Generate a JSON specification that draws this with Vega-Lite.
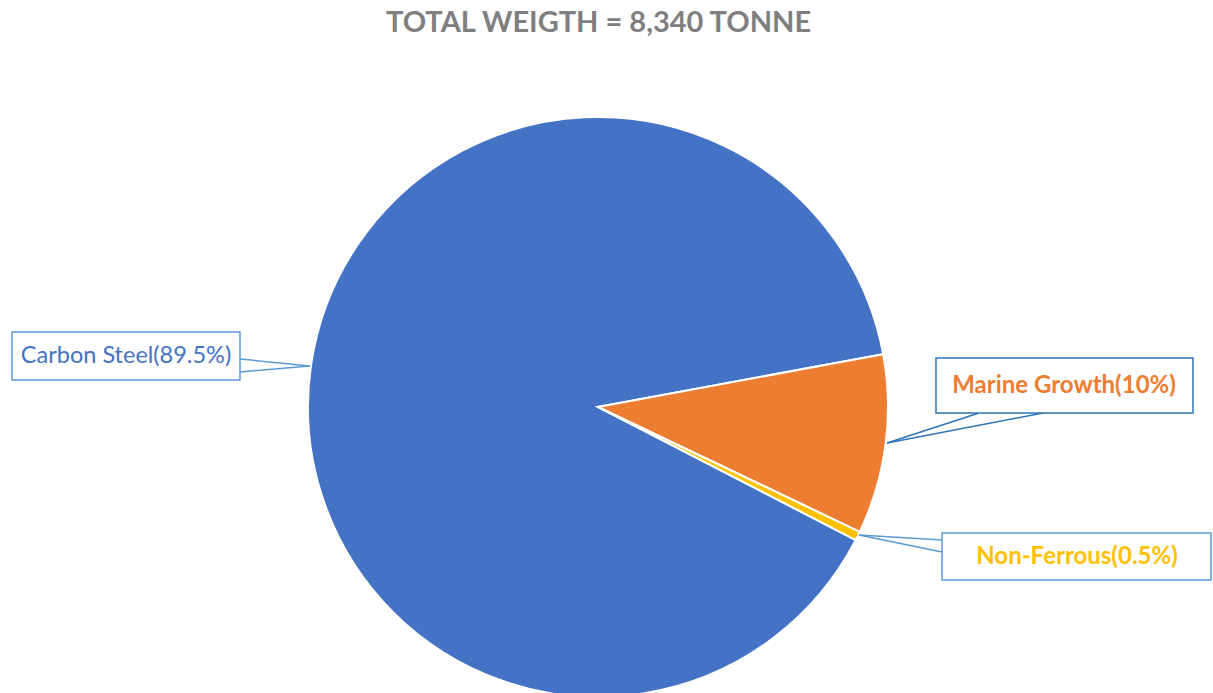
{
  "$schema": "https://vega.github.io/schema/vega-lite/v6.json",
  "width": 1213,
  "height": 647,
  "autosize": {"type": "pad"},
  "padding": {"top": 9, "left": 0, "right": 0, "bottom": 0},
  "background": "white",
  "config": {"view": {"stroke": null}},
  "title": {
    "text": "TOTAL WEIGTH = 8,340 TONNE",
    "orient": "top",
    "anchor": "middle",
    "frame": "group",
    "offset": 8,
    "dx": -8,
    "baseline": "top",
    "font": "Lato",
    "fontSize": 29,
    "fontWeight": "bold",
    "color": "#7F7F7F"
  },
  "datasets": {
    "slices": [
      {"material": "Carbon Steel", "percent": 89.5},
      {"material": "Marine Growth", "percent": 10},
      {"material": "Non-Ferrous", "percent": 0.5}
    ],
    "callouts": [
      {"material": "Carbon Steel", "label": "Carbon Steel(89.5%)", "bold": false, "x1": -2.0207, "x2": -1.2345, "y1": 0.2586, "y2": 0.0931, "tx": -1.6276, "ty": 0.1759},
      {"material": "Marine Growth", "label": "Marine Growth(10%)", "bold": true, "x1": 1.1655, "x2": 2.0517, "y1": 0.1690, "y2": -0.0207, "tx": 1.6069, "ty": 0.0724},
      {"material": "Non-Ferrous", "label": "Non-Ferrous(0.5%)", "bold": true, "x1": 1.1862, "x2": 2.1138, "y1": -0.4345, "y2": -0.5966, "tx": 1.6517, "ty": -0.5172}
    ],
    "pointers": [
      {"material": "Carbon Steel", "bx": -1.2345, "by": 0.1655, "px": -0.9931, "py": 0.1414},
      {"material": "Carbon Steel", "bx": -1.2345, "by": 0.1207, "px": -0.9931, "py": 0.1414},
      {"material": "Marine Growth", "bx": 1.3138, "by": -0.0207, "px": 0.9966, "py": -0.1241},
      {"material": "Marine Growth", "bx": 1.5345, "by": -0.0207, "px": 0.9966, "py": -0.1241},
      {"material": "Non-Ferrous", "bx": 1.1862, "by": -0.4586, "px": 0.9, "py": -0.4414},
      {"material": "Non-Ferrous", "bx": 1.1862, "by": -0.5, "px": 0.9, "py": -0.4414}
    ]
  },
  "layer": [
    {
      "data": {"name": "slices"},
      "mark": {"type": "arc", "outerRadius": 290, "stroke": "white", "strokeWidth": 2},
      "encoding": {
        "theta": {"field": "percent", "type": "quantitative", "stack": true, "scale": {"range": [2.0473, 8.3305]}},
        "order": {"field": "material", "sort": "ascending"},
        "color": {
          "field": "material", "type": "nominal",
          "scale": {"domain": ["Carbon Steel", "Marine Growth", "Non-Ferrous"], "range": ["#4472C4", "#ED7D31", "#FFC000"]},
          "legend": null
        },
        "x": {"datum": 0, "type": "quantitative", "scale": {"domain": [-2.0621, 2.1207], "nice": false, "zero": false}, "axis": null},
        "y": {"datum": 0, "type": "quantitative", "scale": {"domain": [-0.9862, 1.2448], "nice": false, "zero": false}, "axis": null}
      }
    },
    {
      "data": {"name": "pointers"},
      "mark": {"type": "rule", "strokeWidth": 1.5},
      "encoding": {
        "x": {"field": "bx", "type": "quantitative"},
        "y": {"field": "by", "type": "quantitative"},
        "x2": {"field": "px"},
        "y2": {"field": "py"},
        "stroke": {
          "field": "material", "type": "nominal",
          "scale": {"domain": ["Carbon Steel", "Marine Growth", "Non-Ferrous"], "range": ["#5B9BD5", "#2E75B6", "#5B9BD5"]},
          "legend": null
        }
      }
    },
    {
      "data": {"name": "callouts"},
      "mark": {"type": "rect", "fill": "white", "strokeWidth": 1.5},
      "encoding": {
        "x": {"field": "x1", "type": "quantitative"},
        "x2": {"field": "x2"},
        "y": {"field": "y1", "type": "quantitative"},
        "y2": {"field": "y2"},
        "stroke": {"field": "material", "type": "nominal", "legend": null}
      }
    },
    {
      "data": {"name": "callouts"},
      "transform": [{"filter": "!datum.bold"}],
      "mark": {"type": "text", "font": "Lato", "fontSize": 23.5, "fontWeight": "normal", "align": "center", "baseline": "middle"},
      "encoding": {
        "x": {"field": "tx", "type": "quantitative"},
        "y": {"field": "ty", "type": "quantitative"},
        "text": {"field": "label"},
        "color": {"field": "material", "type": "nominal", "legend": null}
      }
    },
    {
      "data": {"name": "callouts"},
      "transform": [{"filter": "datum.bold"}],
      "mark": {"type": "text", "font": "Lato", "fontSize": 24, "fontWeight": "bold", "align": "center", "baseline": "middle"},
      "encoding": {
        "x": {"field": "tx", "type": "quantitative"},
        "y": {"field": "ty", "type": "quantitative"},
        "text": {"field": "label"},
        "color": {"field": "material", "type": "nominal", "legend": null}
      }
    }
  ]
}
